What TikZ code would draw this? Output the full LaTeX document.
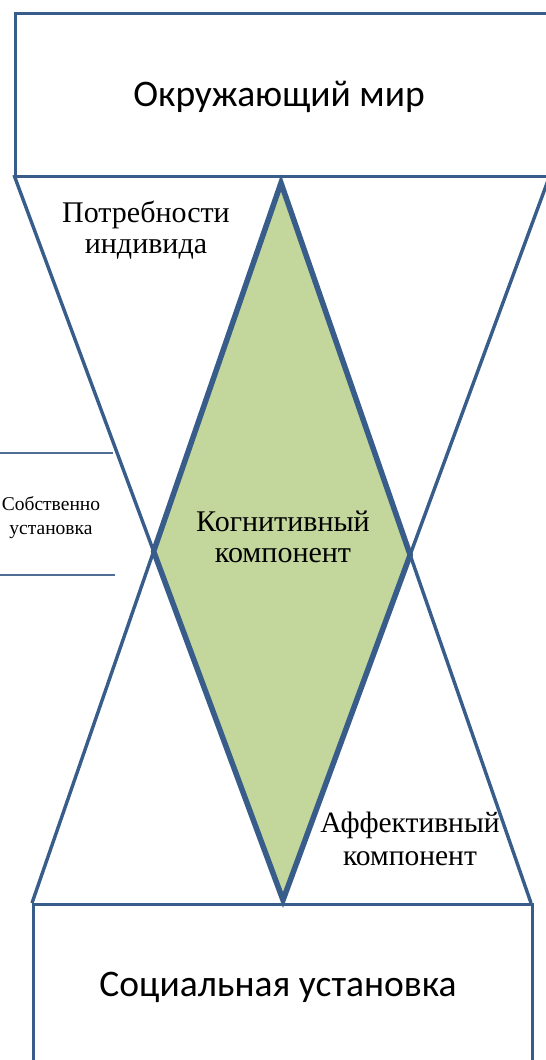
\documentclass[tikz,border=0pt]{standalone}
\usepackage{fontspec}
\setmainfont{Liberation Serif}
\newfontfamily\calfont{Carlito}
\definecolor{edgeblue}{RGB}{56,93,138}
\definecolor{thinblue}{RGB}{79,110,150}
\definecolor{diagreen}{RGB}{195,214,155}
\tikzset{
  boxframe/.style={draw=edgeblue, line width=3.2pt, fill=white, inner sep=0pt},
  funnel/.style={draw=edgeblue, line width=3.4pt},
  diamondedge/.style={draw=edgeblue, line width=5.5pt, line join=miter},
  sideline/.style={draw=thinblue, line width=1.4pt},
  titletext/.style={font=\calfont\fontsize{37.5}{44}\selectfont, inner sep=0pt},
  serifbig/.style={font=\fontsize{30}{31}\selectfont, align=center, inner sep=0pt},
  serifsmall/.style={font=\fontsize{19.5}{24}\selectfont, align=center, inner sep=0pt}
}
\begin{document}
\begin{tikzpicture}[x=1pt,y=-1pt]
\useasboundingbox (0,0) rectangle (546,1060);
\clip (0,0) rectangle (546,1060);
\fill[white] (0,0) rectangle (546,1060);

% boxes
\node[boxframe, anchor=north west, minimum width=546pt, minimum height=163pt] (worldbox) at (14,12) {};
\node[boxframe, anchor=north west, minimum width=499pt, minimum height=170pt] (socialbox) at (32,903) {};

% vertices
\coordinate (tl) at (14,175);
\coordinate (tr) at (550,175);
\coordinate (bl) at (32,903);
\coordinate (br) at (531,903);
\coordinate (dt) at (281,183);
\coordinate (db) at (283,900);
\coordinate (dl) at (intersection of tl--db and bl--dt);
\coordinate (dr) at (intersection of tr--db and br--dt);

% diamond fill
\fill[diagreen] (dt) -- (dl) -- (db) -- (dr) -- cycle;

% funnels
\draw[funnel] (tl) -- (db) -- (tr);
\draw[funnel] (bl) -- (dt) -- (br);

% diamond border
\draw[diamondedge] (dt) -- (dl) -- (db) -- (dr) -- cycle;

% side lines
\coordinate (s1a) at (0,453);
\coordinate (s1b) at (113,453);
\coordinate (s2a) at (0,575);
\coordinate (s2b) at (115,575);
\draw[sideline] (s1a) -- (s1b);
\draw[sideline] (s2a) -- (s2b);

% texts
\node[titletext] (worldtext) at (279,97) {Окружающий мир};
\node[titletext] (socialtext) at (278,987) {Социальная установка};
\node[serifbig] (needs) at (146,230) {Потребности\\индивида};
\node[serifbig] (cognitive) at (283,537) {Когнитивный\\компонент};
\node[serifbig, font=\fontsize{29.5}{33}\selectfont] (affective) at (410,839) {Аффективный\\компонент};
\node[serifsmall] (own) at (51,518) {Собственно\\установка};
\end{tikzpicture}
\end{document}
